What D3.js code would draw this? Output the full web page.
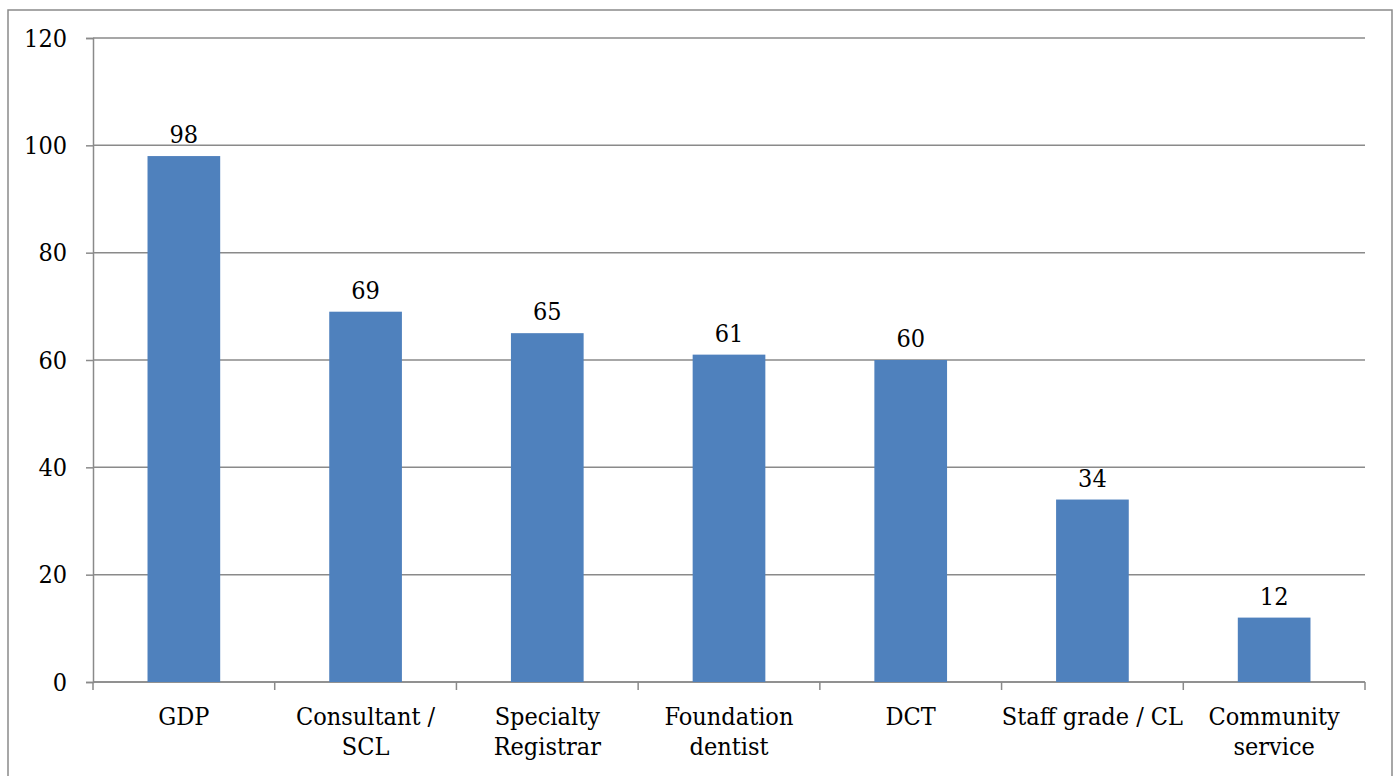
<!DOCTYPE html>
<html>
<head>
<meta charset="utf-8">
<script src="https://cdn.jsdelivr.net/npm/d3@7"></script>
<style>
  html, body { margin: 0; padding: 0; background: #fff; }
  svg { display: block; }
  svg text { font-stretch: condensed; }
</style>
</head>
<body>
<svg id="chart" width="1399" height="776"></svg>
<script>
// Number of respondents by job role
const categories = [
  ["GDP"],
  ["Consultant /", "SCL"],
  ["Specialty", "Registrar"],
  ["Foundation", "dentist"],
  ["DCT"],
  ["Staff grade / CL"],
  ["Community", "service"]
];
const values = [98, 69, 65, 61, 60, 34, 12];
const yTicks = [0, 20, 40, 60, 80, 100, 120];

const FONT = "'DejaVu Serif Condensed', 'DejaVu Serif', serif";
const FS = 25;

const svg = d3.select("#chart");
const plot = { left: 93, right: 1365, top: 38, bottom: 682 };
const axisColor = "#8a8a8a";
const barColor = "#4f81bd";

// outer frame
svg.append("rect")
  .attr("x", 8).attr("y", 10)
  .attr("width", 1384).attr("height", 780)
  .attr("fill", "none")
  .attr("stroke", axisColor)
  .attr("stroke-width", 1.5);

const x = d3.scaleBand()
  .domain(d3.range(categories.length))
  .range([plot.left, plot.right])
  .padding(0);

const y = d3.scaleLinear()
  .domain([0, 120])
  .range([plot.bottom, plot.top]);

// horizontal gridlines
svg.append("g")
  .selectAll("line")
  .data(yTicks)
  .join("line")
  .attr("x1", plot.left).attr("x2", plot.right)
  .attr("y1", d => y(d)).attr("y2", d => y(d))
  .attr("stroke", axisColor)
  .attr("stroke-width", 1.5);

// y axis
const yAxis = svg.append("g")
  .attr("transform", `translate(${plot.left},0)`)
  .call(d3.axisLeft(y).tickValues(yTicks).tickSize(7).tickPadding(19).tickFormat(d3.format("d")));
yAxis.attr("font-family", FONT).attr("font-size", FS);
yAxis.select(".domain").attr("stroke", axisColor).attr("stroke-width", 1.5);
yAxis.selectAll(".tick line").attr("stroke", axisColor).attr("stroke-width", 1.5);
yAxis.selectAll(".tick text").attr("fill", "#000");

// x axis with ticks at category boundaries
const xAxisG = svg.append("g");
xAxisG.append("line")
  .attr("x1", plot.left).attr("x2", plot.right)
  .attr("y1", plot.bottom).attr("y2", plot.bottom)
  .attr("stroke", axisColor).attr("stroke-width", 1.5);
const boundaries = d3.range(categories.length + 1).map(i =>
  i < categories.length ? x(i) : x(categories.length - 1) + x.bandwidth());
xAxisG.selectAll("line.tk")
  .data(boundaries)
  .join("line")
  .attr("class", "tk")
  .attr("x1", d => d).attr("x2", d => d)
  .attr("y1", plot.bottom).attr("y2", plot.bottom + 8)
  .attr("stroke", axisColor).attr("stroke-width", 1.5);

// category labels
const labels = svg.append("g")
  .attr("font-family", FONT).attr("font-size", FS)
  .selectAll("text")
  .data(categories)
  .join("text")
  .attr("text-anchor", "middle")
  .attr("x", (d, i) => x(i) + x.bandwidth() / 2)
  .attr("y", 725);
labels.selectAll("tspan")
  .data(d => d)
  .join("tspan")
  .attr("x", function() { return d3.select(this.parentNode).attr("x"); })
  .attr("dy", (d, i) => i === 0 ? 0 : 30)
  .text(d => d);

// bars
const barW = x.bandwidth() * 0.4;
svg.append("g")
  .selectAll("rect")
  .data(values)
  .join("rect")
  .attr("x", (d, i) => x(i) + (x.bandwidth() - barW) / 2)
  .attr("y", d => y(d))
  .attr("width", barW)
  .attr("height", d => y(0) - y(d))
  .attr("fill", barColor);

// value labels
svg.append("g")
  .attr("font-family", FONT).attr("font-size", FS)
  .selectAll("text")
  .data(values)
  .join("text")
  .attr("text-anchor", "middle")
  .attr("x", (d, i) => x(i) + x.bandwidth() / 2)
  .attr("y", d => y(d) - 13)
  .text(d => d);
</script>
</body>
</html>
